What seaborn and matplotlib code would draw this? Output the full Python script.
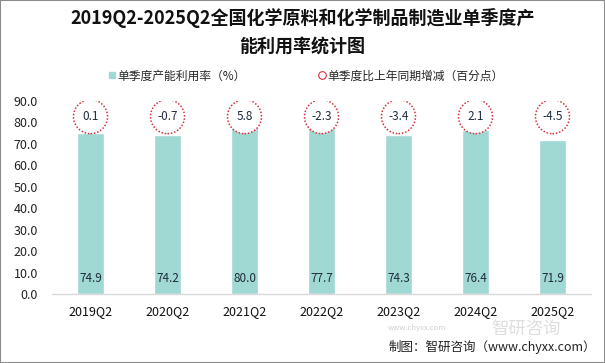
import matplotlib
matplotlib.use('Agg')
import matplotlib.pyplot as plt
import seaborn as sns
import pandas as pd
from matplotlib.lines import Line2D
from matplotlib.patches import Rectangle

quarters = ['2019Q2', '2020Q2', '2021Q2', '2022Q2', '2023Q2', '2024Q2', '2025Q2']
util_rate = [74.9, 74.2, 80.0, 77.7, 74.3, 76.4, 71.9]
yoy_change = [0.1, -0.7, 5.8, -2.3, -3.4, 2.1, -4.5]
yticks = [0, 10, 20, 30, 40, 50, 60, 70, 80, 90]

bar_color = '#a0d8d3'
circ_color = '#d9303c'

sns.set_theme(style='white')
plt.rcParams['font.family'] = ['Noto Sans CJK SC', 'DejaVu Sans']

df = pd.DataFrame({'q': quarters, 'rate': util_rate, 'chg': yoy_change})
df['circ_y'] = 82.7

fig = plt.figure(figsize=(6.05, 3.63), dpi=100)
ax = fig.add_axes([52 / 605, 1 - 294 / 363, 539 / 605, (294 - 101) / 363])

sns.barplot(data=df, x='q', y='rate', color=bar_color, width=0.34, saturation=1, ax=ax)
ax.scatter(range(len(quarters)), df['circ_y'], s=600, facecolor='white', edgecolor=circ_color,
           linestyle=(0, (1, 1.2)), linewidth=1.1, zorder=3)

for i, (r, c) in enumerate(zip(util_rate, yoy_change)):
    ax.text(i, 7, f'{r:.1f}', ha='center', va='center', fontsize=8.5, color='#1f2d3d')
    ax.text(i, 82.7, f'{c}', ha='center', va='center', fontsize=8.5, color='#1f2d3d', zorder=4)

ax.set_ylim(0, 90)
ax.set_xlim(-0.5, len(quarters) - 0.5)
ax.set_yticks(yticks)
ax.set_yticklabels([f'{v:.1f}' for v in yticks], fontsize=9, color='#222222')
ax.tick_params(axis='x', labelsize=9, colors='#111111', pad=8, length=0)
ax.tick_params(axis='y', length=0, pad=10)
ax.set_xlabel('')
ax.set_ylabel('')
for s in ['top', 'right', 'left']:
    ax.spines[s].set_visible(False)
ax.spines['bottom'].set_color('#d9d9d9')
ax.spines['bottom'].set_linewidth(1)

fig.text(0.5, 1 - 18 / 363, '2019Q2-2025Q2全国化学原料和化学制品制造业单季度产', ha='center', va='center',
         fontsize=13, fontweight='bold', color='#111111')
fig.text(0.5, 1 - 46 / 363, '能利用率统计图', ha='center', va='center',
         fontsize=13, fontweight='bold', color='#111111')

handles = [
    Line2D([], [], marker='s', linestyle='none', markersize=4.5, markerfacecolor=bar_color, markeredgecolor=bar_color),
    Line2D([], [], marker='o', linestyle='none', markersize=5.5, markerfacecolor='white',
           markeredgecolor=circ_color, markeredgewidth=0.8),
]
fig.legend(handles, ['单季度产能利用率（%）', '单季度比上年同期增减（百分点）'], loc='center',
           bbox_to_anchor=(0.505, 1 - 76 / 363), ncol=2, frameon=False, fontsize=8.5,
           handletextpad=0.1, columnspacing=6.0, handlelength=0.8)

# watermark and source
fig.text(0.87, 1 - 329 / 363, '智研咨询', fontsize=12.5, color='#d0d0d0', alpha=0.7, ha='center', va='center', zorder=0)
fig.text(0.69, 1 - 328 / 363, 'www.chyxx.com', fontsize=5.5, color='#d0d0d0', ha='center', va='center', zorder=0)
fig.text(0.985, 1 - 347 / 363, '制图：智研咨询（www.chyxx.com）', ha='right', va='center', fontsize=9, color='#222222')

fig.add_artist(Rectangle((0, 0), 1, 1, transform=fig.transFigure, fill=False, edgecolor='#8c8c8c', linewidth=1.5))

fig.savefig('out.png', dpi=100)
